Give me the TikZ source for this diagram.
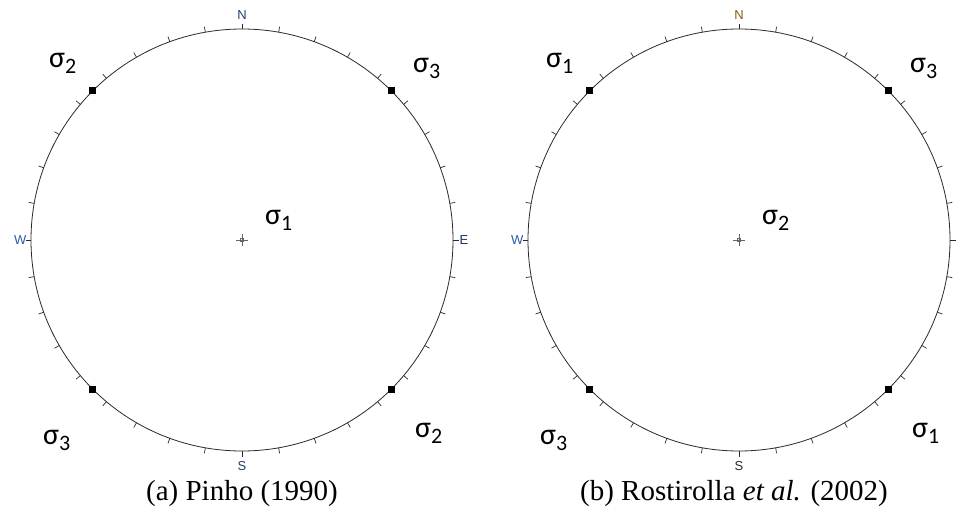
\documentclass[tikz,border=0pt]{standalone}
\usepackage{fontspec}
\setmainfont{Liberation Serif}
\newfontfamily\carl{Carlito}
\newfontfamily\arl{Liberation Sans}
\newcommand\sigl[1]{{\carl\fontsize{30}{30}\selectfont σ\raisebox{-6pt}{\fontsize{22}{22}\selectfont #1}}}
\definecolor{cardblue}{HTML}{1F3F77}
\definecolor{cardw}{HTML}{2A5CAA}
\definecolor{cardbrown}{HTML}{8A5A10}
\definecolor{rim}{HTML}{2A2A2A}
\tikzset{
  rimline/.style={draw=rim, line width=0.8pt},
  tickline/.style={draw=rim, line width=0.7pt},
  polept/.style={rectangle, fill=black, inner sep=0pt, minimum size=7pt},
  sigmalab/.style={anchor=base west, inner sep=0pt},
  cardlab/.style={inner sep=0pt, font=\arl\fontsize{13}{13}\selectfont},
  caplab/.style={anchor=base, inner sep=0pt, font=\fontsize{29}{29}\selectfont},
  crossline/.style={draw=gray!80!black, line width=0.6pt}
}
\begin{document}
\begin{tikzpicture}[x=1pt,y=-1pt]
\useasboundingbox (0,0) rectangle (960,514);
\fill[white] (0,0) rectangle (960,514);
% ---------- left stereonet ----------
\coordinate (oL) at (242,240);
\node[circle, rimline, minimum size=422pt, inner sep=0pt] (cL) at (oL) {};
\foreach \a in {0,10,...,350} { \draw[tickline] (oL) ++(\a:211) -- ++(\a:5.5); }
\draw[crossline] (oL) ++(-6,0) -- ++(12,0);
\draw[crossline] (oL) ++(0,-6) -- ++(0,12);
\node[draw=gray!80!black, line width=0.5pt, inner sep=0pt, minimum size=3pt] (ctrL) at (oL) {};
\node[polept] (pL1) at ([shift={(45:211)}]oL) {};
\node[polept] (pL2) at ([shift={(135:211)}]oL) {};
\node[polept] (pL3) at ([shift={(225:211)}]oL) {};
\node[polept] (pL4) at ([shift={(315:211)}]oL) {};
\node[cardlab, text=cardblue] (NL) at (242,15) {N};
\node[cardlab, text=cardblue] (SL) at (242,466) {S};
\node[cardlab, text=cardw, anchor=east] (WL) at (26.5,240) {W};
\node[cardlab, text=cardblue!80!black, anchor=west] (EL) at (459.5,240) {E};
\node[sigmalab] (s1L) at (265,224) {\sigl{1}};
\node[sigmalab] (s2L) at (49,67) {\sigl{2}};
\node[sigmalab] (s3L) at (413,72) {\sigl{3}};
\node[sigmalab] (s4L) at (43,444) {\sigl{3}};
\node[sigmalab] (s5L) at (415,437) {\sigl{2}};
\node[caplab] (capL) at (242,500) {(a) Pinho (1990)};
% ---------- right stereonet ----------
\coordinate (oR) at (739,240);
\node[circle, rimline, minimum size=422pt, inner sep=0pt] (cR) at (oR) {};
\foreach \a in {0,10,...,350} { \draw[tickline] (oR) ++(\a:211) -- ++(\a:5.5); }
\draw[crossline] (oR) ++(-6,0) -- ++(12,0);
\draw[crossline] (oR) ++(0,-6) -- ++(0,12);
\node[draw=gray!80!black, line width=0.5pt, inner sep=0pt, minimum size=3pt] (ctrR) at (oR) {};
\node[polept] (pR1) at ([shift={(45:211)}]oR) {};
\node[polept] (pR2) at ([shift={(135:211)}]oR) {};
\node[polept] (pR3) at ([shift={(225:211)}]oR) {};
\node[polept] (pR4) at ([shift={(315:211)}]oR) {};
\node[cardlab, text=cardbrown] (NR) at (739,15) {N};
\node[cardlab, text=rim] (SR) at (739,466) {S};
\node[cardlab, text=cardw, anchor=east] (WR) at (523.5,240) {W};
\node[sigmalab] (s1R) at (762,224) {\sigl{2}};
\node[sigmalab] (s2R) at (546,67) {\sigl{1}};
\node[sigmalab] (s3R) at (910,72) {\sigl{3}};
\node[sigmalab] (s4R) at (540,444) {\sigl{3}};
\node[sigmalab] (s5R) at (912,437) {\sigl{1}};
\node[caplab] (capR) at (734,500) {(b) Rostirolla \textit{et al.} (2002)};
\end{tikzpicture}
\end{document}
